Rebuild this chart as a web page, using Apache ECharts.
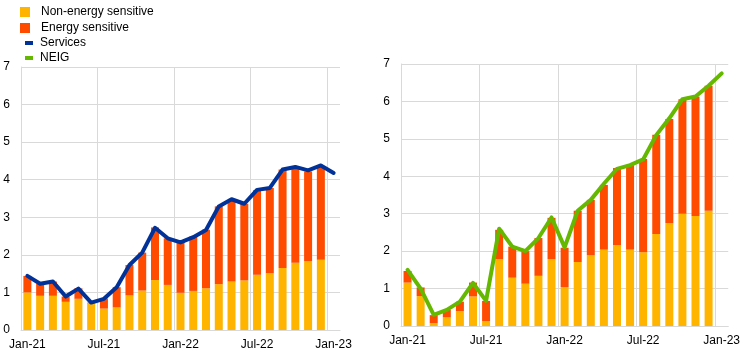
<!DOCTYPE html>
<html>
<head>
<meta charset="utf-8">
<script src="https://cdn.jsdelivr.net/npm/echarts@6/dist/echarts.min.js"></script>
<style>html,body{margin:0;padding:0;background:#fff}#c{width:743px;height:358px}</style>
</head>
<body>
<div id="c"></div>
<script>
const months = ['Jan-21','Feb-21','Mar-21','Apr-21','May-21','Jun-21','Jul-21','Aug-21','Sep-21','Oct-21','Nov-21','Dec-21',
  'Jan-22','Feb-22','Mar-22','Apr-22','May-22','Jun-22','Jul-22','Aug-22','Sep-22','Oct-22','Nov-22','Dec-22','Jan-23'];
const yTicks = [0,1,2,3,4,5,6,7];

// Left panel: services
const svcNonEnergy = [1.00,0.91,0.91,0.75,0.83,0.71,0.57,0.60,0.92,1.05,1.33,1.20,0.99,1.04,1.11,1.22,1.29,1.32,1.47,1.51,1.65,1.79,1.83,1.87];
const svcTotal     = [1.44,1.23,1.29,0.89,1.11,0.73,0.84,1.14,1.73,2.06,2.73,2.44,2.36,2.49,2.67,3.29,3.45,3.36,3.72,3.78,4.27,4.34,4.22,4.34];
const svcEnergy = svcTotal.map((t,i)=>+(t-svcNonEnergy[i]).toFixed(2));
const services = [1.44,1.23,1.29,0.89,1.10,0.73,0.83,1.14,1.73,2.06,2.72,2.44,2.33,2.47,2.66,3.29,3.48,3.36,3.73,3.78,4.27,4.34,4.25,4.38,4.18];

// Right panel: NEIG
const neigNonEnergy = [1.16,0.80,0.08,0.23,0.40,0.79,0.13,1.79,1.29,1.13,1.34,1.79,1.04,1.71,1.89,2.04,2.16,2.04,1.97,2.46,2.75,3.00,2.94,3.08];
const neigTotal     = [1.47,1.03,0.29,0.43,0.65,1.16,0.67,2.57,2.12,2.00,2.35,2.89,2.09,3.08,3.37,3.77,4.22,4.30,4.46,5.11,5.53,6.06,6.13,6.42];
const neigEnergy = neigTotal.map((t,i)=>+(t-neigNonEnergy[i]).toFixed(2));
const neig = [1.50,1.00,0.30,0.43,0.65,1.15,0.67,2.60,2.12,2.00,2.35,2.90,2.10,3.08,3.37,3.80,4.20,4.30,4.45,5.10,5.55,6.06,6.13,6.42,6.75];

// vertical gridline positions (category boundaries, every 6 months)
const vGridAt = [0,6,12,18,24];

const YELLOW = '#FFB400', ORANGE = '#FF4B00', BLUE = '#003299', GREEN = '#65B800';
const GRID = '#d9d9d9';
const FONT = 'Liberation Sans, Arial, sans-serif';

function catAxis(gi){
  return {
    type:'category', gridIndex:gi, data:months, boundaryGap:true,
    axisLine:{show:true, lineStyle:{color:GRID, width:1}},
    axisTick:{show:false},
    axisLabel:{interval:5, color:'#000', fontSize:12, fontFamily:FONT, margin:9},
    splitLine:{show:false}
  };
}
function posAxis(gi){
  return {
    type:'value', gridIndex:gi, min:0, max:months.length, position:'top', show:false,
    splitLine:{show:false}
  };
}
function valAxis(gi){
  return {
    type:'value', gridIndex:gi, min:yTicks[0], max:yTicks[yTicks.length-1], interval:1,
    axisLine:{show:true, lineStyle:{color:GRID, width:1}},
    axisTick:{show:false},
    axisLabel:{color:'#000', fontSize:12, fontFamily:FONT, margin:11},
    splitLine:{show:true, lineStyle:{color:GRID, width:1}}
  };
}
function vGrid(xi, yi){
  return {
    type:'scatter', xAxisIndex:xi, yAxisIndex:yi, data:[], silent:true, z:0,
    markLine:{silent:true, symbol:['none','none'], label:{show:false},
      lineStyle:{color:GRID, width:1, type:'solid'}, emphasis:{disabled:true},
      data:vGridAt.map(v=>({xAxis:v}))}
  };
}

const chart = echarts.init(document.getElementById('c'), null, {renderer:'canvas'});
chart.setOption({
  animation:false,
  backgroundColor:'#fff',
  textStyle:{fontFamily:FONT},
  legend:[
    {orient:'vertical', left:20, top:5, padding:0, itemWidth:10, itemHeight:10, itemGap:2, icon:'rect',
     textStyle:{fontSize:12, color:'#000', fontFamily:FONT, lineHeight:14, padding:[0,0,0,6]},
     data:['Non-energy sensitive','Energy sensitive'], selectedMode:false},
    {orient:'vertical', left:25, top:36, padding:0, itemWidth:8, itemHeight:4, itemGap:1, icon:'rect',
     textStyle:{fontSize:12, color:'#000', fontFamily:FONT, lineHeight:14, padding:[0,0,0,2]},
     data:['Services','NEIG'], selectedMode:false}
  ],
  grid:[
    {left:21, top:67, width:319, height:263},
    {left:401, top:64, width:329, height:262}
  ],
  xAxis:[catAxis(0), catAxis(1), posAxis(0), posAxis(1)],
  yAxis:[valAxis(0), valAxis(1)],
  series:[
    vGrid(2,0), vGrid(3,1),
    {name:'Non-energy sensitive', type:'bar', xAxisIndex:0, yAxisIndex:0, stack:'L', data:svcNonEnergy, barWidth:8, itemStyle:{color:YELLOW}},
    {name:'Energy sensitive', type:'bar', xAxisIndex:0, yAxisIndex:0, stack:'L', data:svcEnergy, barWidth:8, itemStyle:{color:ORANGE}},
    {name:'Services', type:'line', xAxisIndex:0, yAxisIndex:0, data:services, symbol:'none', z:5,
     lineStyle:{color:BLUE, width:4, cap:'round', join:'round'}, itemStyle:{color:BLUE}},
    {name:'Non-energy sensitive', type:'bar', xAxisIndex:1, yAxisIndex:1, stack:'R', data:neigNonEnergy, barWidth:8, itemStyle:{color:YELLOW}},
    {name:'Energy sensitive', type:'bar', xAxisIndex:1, yAxisIndex:1, stack:'R', data:neigEnergy, barWidth:8, itemStyle:{color:ORANGE}},
    {name:'NEIG', type:'line', xAxisIndex:1, yAxisIndex:1, data:neig, symbol:'none', z:5,
     lineStyle:{color:GREEN, width:4, cap:'round', join:'round'}, itemStyle:{color:GREEN}}
  ]
});
</script>
</body>
</html>
